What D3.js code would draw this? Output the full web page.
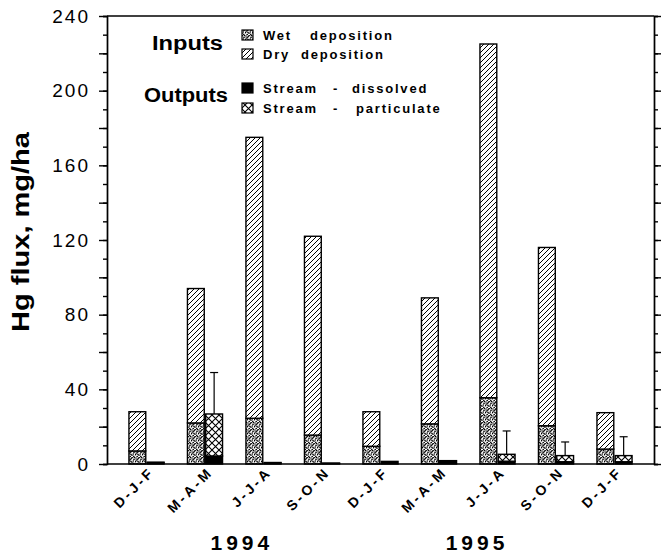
<!DOCTYPE html>
<meta charset="utf-8">
<style>
  body { margin: 0; background: #fff; }
  text { font-family: "Liberation Sans", Arial, Helvetica, sans-serif; fill: #000; }
  .axis path, .axis line { stroke: #000; stroke-width: 1.4px; }
  .axis text { font-size: 19px; letter-spacing: 2px; }
  .season { font-size: 14px; font-weight: bold; letter-spacing: 3px; }
  .year { font-size: 21px; font-weight: bold; letter-spacing: 4px; }
  .legend { font-size: 13px; font-weight: bold; letter-spacing: 1.8px; }
</style>
<svg width="661" height="555"></svg>
<script src="https://d3js.org/d3.v7.min.js"></script>
<script>
  // seasons, two years of sampling
  var seasons = ["D-J-F", "M-A-M", "J-J-A", "S-O-N", "D-J-F", "M-A-M", "J-J-A", "S-O-N", "D-J-F"];
  var years = ["1994", "1995"];
  var yearAt = [1.63, 5.65]; // position along the season index

  // inputs (mg/ha)
  var wetDep = [7, 22, 24.5, 15.5, 9.5, 21.5, 35.5, 20.5, 8];
  var dryDep = [21, 72, 150.5, 106.5, 18.5, 67.5, 189.5, 95.5, 19.5];
  // outputs (mg/ha)
  var streamDiss = [0.6, 4.3, 0.5, 0.3, 1.4, 1.8, 1.5, 1.2, 1.2];
  var streamPart = [0.4, 22.5, 0.3, 0.2, 0, 0, 3.7, 3.3, 3.3];
  var errHigh = [null, 49, null, null, null, null, 17.7, 11.8, 14.6];

  var yTicks = [0, 40, 80, 120, 160, 200, 240];

  var svg = d3.select("svg"),
    margin = { top: 16, right: 7, bottom: 91, left: 107 },
    width = +svg.attr("width") - margin.left - margin.right,
    height = +svg.attr("height") - margin.top - margin.bottom,
    g = svg.append("g").attr("transform", "translate(" + margin.left + "," + margin.top + ")");

  var y = d3.scaleLinear().domain([0, 240]).range([height, 0]);

  var x = d3.scaleBand()
    .domain(d3.range(seasons.length))
    .range([0, width])
    .paddingInner(0.4)
    .paddingOuter(0.375);

  var side = d3.scaleBand()
    .domain(["in", "out"])
    .range([0, x.bandwidth()])
    .paddingInner(0.08);

  function xc(i) { return x(0) + x.bandwidth() / 2 + i * x.step(); }

  // fill patterns
  var defs = svg.append("defs");

  var dry = defs.append("pattern").attr("id", "dry")
    .attr("patternUnits", "userSpaceOnUse").attr("width", 5).attr("height", 5);
  dry.append("rect").attr("width", 5).attr("height", 5).attr("fill", "#fff");
  dry.append("path").attr("d", "M-1,1 L1,-1 M0,5 L5,0 M4,6 L6,4")
    .attr("stroke", "#000").attr("stroke-width", 1);

  var wet = defs.append("pattern").attr("id", "wet")
    .attr("patternUnits", "userSpaceOnUse").attr("width", 7).attr("height", 7);
  wet.append("rect").attr("width", 7).attr("height", 7).attr("fill", "#fff");
  [[1, 1], [4.2, 0.6], [2.6, 2.8], [6, 2.4], [0.6, 4.6], [4, 5.2], [5.8, 6.4], [2.2, 6.5],
   [5.3, 4], [1.2, 3.1], [3.2, 1.4], [6.4, 0.4], [3, 4.5]]
    .forEach(function (p) {
      wet.append("circle").attr("cx", p[0]).attr("cy", p[1]).attr("r", 0.8).attr("fill", "#000");
    });

  var part = defs.append("pattern").attr("id", "part")
    .attr("patternUnits", "userSpaceOnUse").attr("width", 7).attr("height", 7);
  part.append("rect").attr("width", 7).attr("height", 7).attr("fill", "#fff");
  part.append("path").attr("d", "M0,0 L7,7 M7,0 L0,7")
    .attr("stroke", "#000").attr("stroke-width", 1.1);

  // build stacks
  var table = seasons.map(function (s, i) {
    return { i: i, wet: wetDep[i], dry: dryDep[i], diss: streamDiss[i], part: streamPart[i] };
  });
  var inStack = d3.stack().keys(["wet", "dry"])(table);
  var outStack = d3.stack().keys(["diss", "part"])(table);
  var fills = { wet: "url(#wet)", dry: "url(#dry)", diss: "#000", part: "url(#part)" };

  function drawStack(stack, which) {
    g.selectAll(null).data(stack).enter().append("g")
      .attr("fill", function (d) { return fills[d.key]; })
      .selectAll("rect").data(function (d) { return d; })
      .enter().append("rect")
      .attr("x", function (d) { return x(d.data.i) + side(which); })
      .attr("width", side.bandwidth())
      .attr("y", function (d) { return y(d[1]); })
      .attr("height", function (d) { return y(d[0]) - y(d[1]); })
      .attr("stroke", "#000")
      .attr("stroke-width", 1.4);
  }
  drawStack(inStack, "in");
  drawStack(outStack, "out");

  // error bars on the outputs
  var errs = table.filter(function (d) { return errHigh[d.i] != null; });
  var eb = g.selectAll(".err").data(errs).enter().append("g").attr("class", "err")
    .attr("stroke", "#000").attr("stroke-width", 1.2);
  eb.append("line")
    .attr("x1", function (d) { return x(d.i) + side("out") + side.bandwidth() / 2; })
    .attr("x2", function (d) { return x(d.i) + side("out") + side.bandwidth() / 2; })
    .attr("y1", function (d) { return y(d.diss + d.part); })
    .attr("y2", function (d) { return y(errHigh[d.i]); });
  eb.append("line")
    .attr("x1", function (d) { return x(d.i) + side("out") + side.bandwidth() / 2 - 4; })
    .attr("x2", function (d) { return x(d.i) + side("out") + side.bandwidth() / 2 + 4; })
    .attr("y1", function (d) { return y(errHigh[d.i]); })
    .attr("y2", function (d) { return y(errHigh[d.i]); });

  // axes
  g.append("g").attr("class", "axis")
    .call(d3.axisLeft(y).tickValues(d3.range(0, 241, 10)).tickSize(4).tickFormat(""));
  var left = g.append("g").attr("class", "axis")
    .call(d3.axisLeft(y).tickValues(d3.range(0, 241, 20)).tickSize(8).tickSizeOuter(0)
      .tickFormat(function (d) { return yTicks.indexOf(d) >= 0 ? d : ""; }));
  left.selectAll("text").attr("x", -17);

  g.append("g").attr("class", "axis").attr("transform", "translate(" + width + ",0)")
    .call(d3.axisRight(y).tickValues(d3.range(0, 241, 10)).tickSize(4).tickFormat(""));
  g.append("g").attr("class", "axis").attr("transform", "translate(" + width + ",0)")
    .call(d3.axisRight(y).tickValues(d3.range(0, 241, 20)).tickSize(7).tickSizeOuter(0).tickFormat(""));

  g.append("line").attr("x1", 0).attr("x2", width).attr("y1", 0).attr("y2", 0)
    .attr("stroke", "#000").attr("stroke-width", 1.4);
  g.append("line").attr("x1", 0).attr("x2", width).attr("y1", height).attr("y2", height)
    .attr("stroke", "#000").attr("stroke-width", 1.4);

  // season labels
  g.selectAll(".season").data(seasons).enter().append("text")
    .attr("class", "season")
    .attr("text-anchor", "end")
    .attr("transform", function (d, i) {
      return "translate(" + (xc(i) + 9) + "," + (height + 9) + ") rotate(-45)";
    })
    .text(function (d) { return d; });

  g.selectAll(".year").data(years).enter().append("text")
    .attr("class", "year")
    .attr("text-anchor", "middle")
    .attr("x", function (d, i) { return xc(yearAt[i]); })
    .attr("y", height + 86)
    .text(function (d) { return d; });

  // y label
  svg.append("text")
    .attr("transform", "translate(29,232) rotate(-90)")
    .attr("text-anchor", "middle")
    .style("font-size", "23px").style("font-weight", "bold")
    .attr("textLength", 200).attr("lengthAdjust", "spacingAndGlyphs")
    .text("Hg flux, mg/ha");

  // legend
  svg.append("text").attr("x", 152).attr("y", 50)
    .style("font-size", "20px").style("font-weight", "bold")
    .attr("textLength", 71).attr("lengthAdjust", "spacingAndGlyphs")
    .text("Inputs");
  svg.append("text").attr("x", 144).attr("y", 102)
    .style("font-size", "20px").style("font-weight", "bold")
    .attr("textLength", 84).attr("lengthAdjust", "spacingAndGlyphs")
    .text("Outputs");

  var legendKeys = ["wet", "dry", "diss", "part"];
  var legendWords = [["Wet", "deposition"], ["Dry", "deposition"], ["Stream", "-", "dissolved"], ["Stream", "-", "particulate"]];
  var legendY = [30, 49, 83, 103];
  var wordX = [[263, 310], [263, 301], [263, 333, 352], [263, 333, 356]];

  legendKeys.forEach(function (k, i) {
    svg.append("rect").attr("x", 242).attr("y", legendY[i]).attr("width", 11).attr("height", 10)
      .attr("fill", fills[k]).attr("stroke", "#000").attr("stroke-width", 1.2);
    legendWords[i].forEach(function (w, j) {
      svg.append("text").attr("class", "legend")
        .attr("x", wordX[i][j]).attr("y", legendY[i] + 10)
        .text(w);
    });
  });
</script>
